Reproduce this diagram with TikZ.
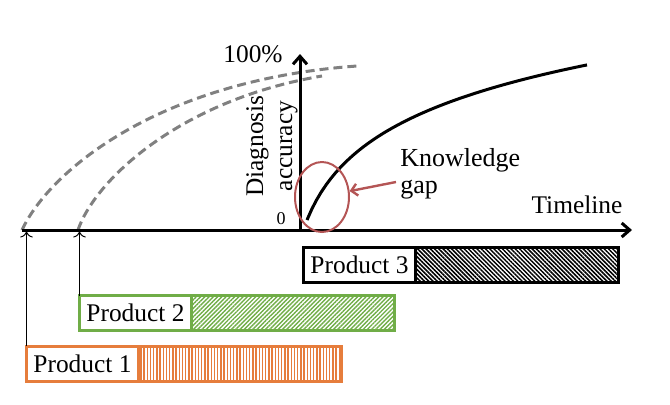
\documentclass[tikz,border=0pt]{standalone}
\usepackage{fontspec}
\setmainfont{Liberation Serif}
\usetikzlibrary{arrows.meta,positioning,patterns.meta,shapes.geometric,calc}
\definecolor{prodgreen}{RGB}{112,173,71}
\definecolor{prodorange}{RGB}{230,125,60}
\definecolor{gapred}{RGB}{180,85,85}
\definecolor{dashgray}{RGB}{128,128,128}

\begin{document}
\begin{tikzpicture}[
    x=0.5pt, y=-0.5pt,
    every node/.style={font=\fontsize{12.7}{14.5}\selectfont},
    axis/.style={line width=1.5pt, -{Straight Barb[length=4pt,width=7pt]}},
    namebox/.style={draw, line width=1.5pt, fill=white, minimum width=56pt, minimum height=17.5pt, inner sep=0pt, outer sep=0pt},
    hatchbox/.style={draw, line width=1.5pt, minimum width=101.5pt, minimum height=17.5pt, inner sep=0pt, outer sep=0pt, anchor=west},
    release/.style={line width=0.5pt, -{To[length=3pt]}, shorten >=0.75pt},
    olddash/.style={dashgray, line width=1.5pt, dash pattern=on 4.5pt off 2.5pt},
    gaparrow/.style={gapred, line width=1.2pt, -{Straight Barb[length=3pt,width=6pt]}}
]
\useasboundingbox (0,0) rectangle (670,404);

% axes
\coordinate (origin) at (300,230);
\coordinate (tstart) at (22,230);
\coordinate (tsecond) at (78,230);
\coordinate (tend) at (632,230);
\coordinate (ytop) at (300,54);

% earlier products' accuracy curves
\draw[olddash] (tstart) .. controls (50,170) and (160,80) .. (357,66);
\draw[olddash] (tsecond) .. controls (95,180) and (180,100) .. (322,76);

\draw[axis] (tstart) -- (tend);
\draw[axis] (origin) -- (ytop);

\node (full) at (253,54) {100\%};
\node[font=\fontsize{9}{9}\selectfont] (zero) at (281,219) {0};
\node[rotate=90, align=center] (acc) at (272,146) {Diagnosis\\accuracy};
\node (time) at (577,205) {Timeline};

% new product's accuracy curve
\draw[line width=1.5pt] plot[domain=307:587, samples=60] (\x, {220-62*ln(1+(\x-307)/25)});

% knowledge gap
\node[draw=gapred, line width=1pt, ellipse, minimum width=27pt, minimum height=35pt, inner sep=0pt] (circ) at (322,197) {};
\node[align=left, anchor=west, inner sep=0pt, font=\fontsize{13}{13.5}\selectfont] (gap) at (400,174) {Knowledge\\gap};
\draw[gaparrow] ([xshift=-2pt,yshift=-4pt]gap.west) -- (circ.12);

% products
\node[namebox, draw=black] (prodC) at (359.5,265) {Product 3};
\node[hatchbox, draw=black, pattern={Lines[angle=135,distance=1.5pt,line width=0.75pt]}, pattern color=black] (prodChatch) at (prodC.east) {};

\node[namebox, draw=prodgreen] (prodB) at (135.5,313) {Product 2};
\node[hatchbox, draw=prodgreen, pattern={Lines[angle=45,distance=1.5pt,line width=0.7pt]}, pattern color=prodgreen] (prodBhatch) at (prodB.east) {};

\node[namebox, draw=prodorange] (prodA) at (82.5,363.5) {Product 1};
\node[hatchbox, draw=prodorange, pattern={Lines[angle=90,distance=1.6pt,line width=0.7pt]}, pattern color=prodorange] (prodAhatch) at (prodA.east) {};

% release dates
\draw[release] (prodA.north west) -- (prodA.north west |- tstart);
\draw[release] (prodB.north west) -- (prodB.north west |- tsecond);
\end{tikzpicture}
\end{document}
